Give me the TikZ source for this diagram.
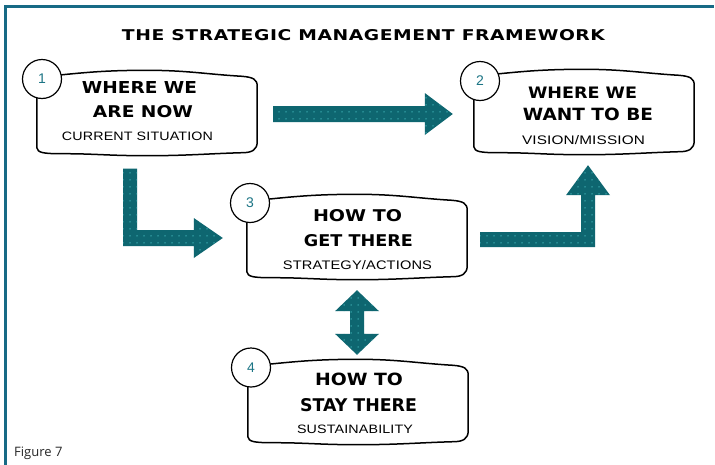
\documentclass[tikz,border=0pt]{standalone}
\usepackage{fontspec}
\setmainfont{Liberation Sans}
\newfontfamily\headf{DejaVu Sans}
\newfontfamily\titlef{DejaVu Sans}[LetterSpace=3]
\newfontfamily\smallf{Liberation Sans}[LetterSpace=1]
\newfontfamily\figf{Open Sans}
\usetikzlibrary{calc,patterns.meta}

\definecolor{framec}{HTML}{176A85}
\definecolor{arrbase}{HTML}{0E6670}
\definecolor{arrdot}{HTML}{3FB0B5}
\definecolor{numc}{HTML}{1C7585}

\newcommand\fitt[3]{\resizebox{#1pt}{#2pt}{#3}}
\newcommand\scrollpath[1]{let \p1=(#1.south west), \p2=(#1.north east), \p3=(#1.south) in
 (\x1,\y2-14) -- (\x1,\y1+8)
 .. controls (\x1+1,\y1+3) and (\x1+6,\y1+2) .. (\x1+25,\y1+2)
 .. controls (\x1+60,\y1+2) and (\x3-40,\y1) .. (\x3,\y1)
 .. controls (\x3+40,\y1) and (\x2-50,\y1+2) .. (\x2-15,\y1+3)
 .. controls (\x2-5,\y1+3) and (\x2,\y1+6) .. (\x2,\y1+14)
 -- (\x2,\y2-16)
 .. controls (\x2,\y2-9) and (\x2-4,\y2-7) .. (\x2-15,\y2-6)
 .. controls (\x2-50,\y2-4) and (\x3+40,\y2) .. (\x3,\y2)
 .. controls (\x3-40,\y2) and (\x1+50,\y2-2) .. (\x1+20,\y2-5)
 -- cycle}
\newcommand\scrollbox[1]{%
 \fill[boxshadow,xshift=5pt,yshift=-4.5pt] \scrollpath{#1};
 \draw[outline] \scrollpath{#1};}

\tikzset{
 lbl/.style={inner sep=0pt, anchor=center},
 boxnode/.style={minimum width=220pt, minimum height=85pt, inner sep=0pt},
 numcircle/.style={circle, draw=black, line width=1.2pt, fill=white, minimum size=39pt, inner sep=0pt, text=numc, font=\fontsize{14}{14}\selectfont},
 outline/.style={draw=black, line width=1.5pt, fill=white, line join=round},
 boxshadow/.style={fill=black},
 arr/.style={fill=arrbase, postaction={pattern={Dots[radius=0.8pt,distance=6.5pt]}, pattern color=arrdot}},
 frameline/.style={draw=framec, line width=3pt},
}

\begin{document}
\begin{tikzpicture}[x=1pt,y=-1pt]
\useasboundingbox (0,0) rectangle (715,464);
\fill[white] (0,0) rectangle (715,464);
\draw[frameline] (5.5,466) -- (5.5,6.5) -- (714,6.5);

% title
\node[lbl] (title) at (363.5,35.5) {\fitt{483}{11}{\titlef\bfseries THE STRATEGIC MANAGEMENT FRAMEWORK}};

% boxes
\node[boxnode] (b1) at (147,113) {};
\node[boxnode] (b2) at (584,112) {};
\node[boxnode] (b3) at (357,237) {};
\node[boxnode] (b4) at (358,402) {};
\scrollbox{b1}
\scrollbox{b2}
\scrollbox{b3}
\scrollbox{b4}

% number circles
\node[numcircle] (n1) at (42,79) {1};
\node[numcircle] (n2) at (480,81) {2};
\node[numcircle] (n3) at (250,203) {3};
\node[numcircle] (n4) at (251,367.5) {4};

% box texts
\node[lbl] (t1a) at (139.5,87) {\fitt{115}{12}{\headf\bfseries WHERE WE}};
\node[lbl] (t1b) at (143,112) {\fitt{100}{12}{\headf\bfseries ARE NOW}};
\node[lbl] (t1c) at (137.5,136.5) {\fitt{151}{8.5}{\smallf CURRENT SITUATION}};

\node[lbl] (t2a) at (582.5,92.5) {\fitt{109}{11.5}{\headf\bfseries WHERE WE}};
\node[lbl] (t2b) at (588,114.5) {\fitt{130}{12.5}{\headf\bfseries WANT TO BE}};
\node[lbl] (t2c) at (583.5,140) {\fitt{123}{9}{\smallf VISION/MISSION}};

\node[lbl] (t3a) at (357.5,216) {\fitt{89}{12}{\headf\bfseries HOW TO}};
\node[lbl] (t3b) at (358.5,241) {\fitt{109}{12}{\headf\bfseries GET THERE}};
\node[lbl] (t3c) at (357.5,265.5) {\fitt{149}{9}{\smallf STRATEGY/ACTIONS}};

\node[lbl] (t4a) at (359,379.5) {\fitt{88}{12.5}{\headf\bfseries HOW TO}};
\node[lbl] (t4b) at (358.5,405.5) {\fitt{117}{13}{\headf\bfseries STAY THERE}};
\node[lbl] (t4c) at (355,429) {\fitt{116}{8.5}{\smallf SUSTAINABILITY}};

% arrows
\coordinate (a12s) at ($(b1.east)+(16,1)$);
\coordinate (a12e) at ($(b2.west)+(-21,2)$);
\fill[arr] let \p1=(a12s), \p2=(a12e) in
 (\x1,\y1+8) -- (\x2-28,\y1+8) -- (\x2-28,\y1+21) -- (\x2,\y1) -- (\x2-28,\y1-21) -- (\x2-28,\y1-8) -- (\x1,\y1-8) -- cycle;

\coordinate (a13s) at ($(b1.south)+(-17,13)$);
\coordinate (a13e) at ($(b3.west)+(-24,1)$);
\fill[arr] let \p1=(a13s), \p2=(a13e) in
 (\x1-7,\y1) -- (\x1+7,\y1) -- (\x1+7,\y2+8) -- (\x2-29,\y2+8) -- (\x2-29,\y2+20) -- (\x2,\y2) -- (\x2-29,\y2-20) -- (\x2-29,\y2-8) -- (\x1-7,\y2-8) -- cycle;

\coordinate (a32s) at ($(b3.east)+(13,2.5)$);
\coordinate (a32e) at ($(b2.south)+(4,10.5)$);
\fill[arr] let \p1=(a32s), \p2=(a32e) in
 (\x1,\y1-7.5) -- (\x2+7,\y1-7.5) -- (\x2+7,\y2-30) -- (\x2+22,\y2-30) -- (\x2,\y2) -- (\x2-22,\y2-30) -- (\x2-7,\y2-30) -- (\x2-7,\y1+7.5) -- (\x1,\y1+7.5) -- cycle;

\coordinate (a34s) at ($(b3.south)+(0,10.5)$);
\coordinate (a34e) at ($(b4.north)+(-1,-4.5)$);
\fill[arr] let \p1=(a34s), \p2=(a34e) in
 (\x1,\y1) -- (\x1+22,\y1-21) -- (\x1+7,\y1-21) -- (\x1+7,\y2+21) -- (\x1+22,\y2+21) -- (\x1,\y2) -- (\x1-22,\y2+21) -- (\x1-7,\y2+21) -- (\x1-7,\y1-21) -- (\x1-22,\y1-21) -- cycle;

% caption
\node[anchor=base west, inner sep=0pt, font=\figf\fontsize{13}{13}\selectfont, text=black!85] (fig) at (14,456) {Figure 7};
\end{tikzpicture}
\end{document}
